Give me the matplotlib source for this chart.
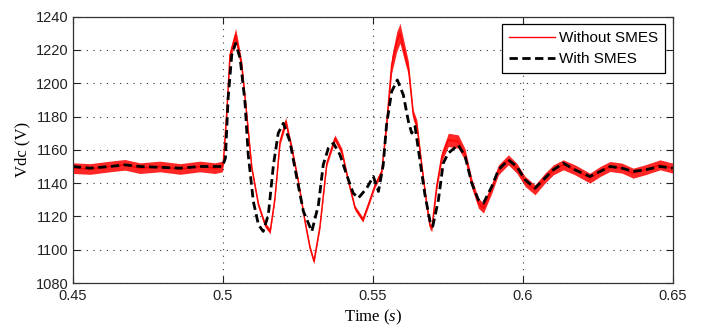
import numpy as np
import matplotlib
matplotlib.use("Agg")
import matplotlib.pyplot as plt

# DC-link voltage response, without / with SMES
t_red = [0.4500, 0.4558, 0.4624, 0.4674, 0.4724, 0.4791, 0.4858, 0.4924, 0.4974, 0.4999,
         0.5002, 0.5013, 0.5024, 0.5043, 0.5063, 0.5080, 0.5097, 0.5119, 0.5141, 0.5158,
         0.5174, 0.5191, 0.5210, 0.5230, 0.5252, 0.5274, 0.5291, 0.5304, 0.5324, 0.5347,
         0.5374, 0.5397, 0.5419, 0.5441, 0.5467, 0.5485, 0.5508, 0.5530, 0.5546, 0.5563,
         0.5580, 0.5591, 0.5608, 0.5619, 0.5635, 0.5647, 0.5663, 0.5680, 0.5691, 0.5697,
         0.5713, 0.5730, 0.5752, 0.5785, 0.5808, 0.5830, 0.5852, 0.5869, 0.5897, 0.5919,
         0.5952, 0.5980, 0.6008, 0.6041, 0.6074, 0.6102, 0.6135, 0.6174, 0.6224, 0.6258,
         0.6291, 0.6331, 0.6368, 0.6408, 0.6458, 0.6500]
v_red = [1149, 1148.5, 1150, 1151, 1149, 1150, 1148.5, 1150, 1149, 1150,
         1153, 1181, 1217, 1229, 1211, 1181, 1149, 1127, 1115, 1111,
         1131, 1165, 1177, 1161, 1141, 1117, 1101, 1093, 1114, 1152,
         1167, 1159, 1141, 1125, 1118, 1127, 1139, 1147, 1175, 1211,
         1225, 1230, 1217, 1209, 1181, 1175, 1151, 1127, 1114, 1113,
         1138, 1156, 1166, 1165, 1157, 1140, 1128, 1125, 1137, 1148,
         1154, 1149, 1141, 1136, 1143, 1148, 1151, 1148, 1143, 1147,
         1150, 1149, 1146, 1148, 1151, 1149]
# half-width of the measurement ripple on the red trace
ripple_red = [3.2, 3.2, 3.2, 3.2, 3.2, 3.2, 3.2, 3.2, 3.2, 3.2,
              2, 2, 3, 4, 3, 2, 1.5, 1.5, 1.5, 1.5,
              1.5, 2, 2.5, 2, 1.5, 1.5, 1.5, 1.5, 1.5, 1.5,
              2, 2, 1.5, 1.5, 1.5, 1.5, 1.5, 2, 3, 5,
              6, 6, 5, 4, 3, 3, 2, 2, 2, 2,
              2.5, 3, 4, 4, 3.5, 3, 3, 3, 3, 3,
              3, 3, 3, 3, 3, 3, 3, 3, 3, 3,
              3, 3, 3, 3, 3, 3]

t_blk = [0.4500, 0.4558, 0.4624, 0.4674, 0.4724, 0.4791, 0.4858, 0.4924, 0.4974, 0.4999,
         0.5009, 0.5018, 0.5030, 0.5043, 0.5058, 0.5074, 0.5085, 0.5102, 0.5119, 0.5135,
         0.5152, 0.5169, 0.5185, 0.5202, 0.5224, 0.5247, 0.5269, 0.5297, 0.5319, 0.5335,
         0.5352, 0.5369, 0.5391, 0.5413, 0.5435, 0.5452, 0.5480, 0.5502, 0.5519, 0.5535,
         0.5546, 0.5563, 0.5582, 0.5602, 0.5619, 0.5630, 0.5641, 0.5658, 0.5674, 0.5691,
         0.5700, 0.5719, 0.5735, 0.5752, 0.5785, 0.5808, 0.5830, 0.5852, 0.5869, 0.5897,
         0.5919, 0.5952, 0.5980, 0.6008, 0.6041, 0.6074, 0.6102, 0.6135, 0.6174, 0.6224,
         0.6258, 0.6291, 0.6331, 0.6368, 0.6408, 0.6458, 0.6500]
v_blk = [1150, 1149, 1150, 1151, 1150, 1149.5, 1149, 1150, 1150, 1150,
         1155, 1191, 1217, 1224, 1215, 1189, 1157, 1129, 1115, 1111,
         1121, 1151, 1170, 1176, 1165, 1143, 1123, 1111, 1127, 1151,
         1161, 1164, 1157, 1145, 1134, 1131, 1137, 1144, 1135, 1151,
         1175, 1195, 1202, 1193, 1177, 1170, 1174, 1153, 1133, 1117,
         1114, 1130, 1152, 1158, 1163, 1156, 1140, 1130, 1128, 1138,
         1148, 1154, 1150, 1142, 1137, 1143, 1148, 1152, 1148, 1144,
         1147, 1150, 1149, 1147, 1148, 1150, 1149]

x_ticks = [0.45, 0.5, 0.55, 0.6, 0.65]
x_ticklabels = ["0.45", "0.5", "0.55", "0.6", "0.65"]
y_ticks = [1080, 1100, 1120, 1140, 1160, 1180, 1200, 1220, 1240]

plt.rcParams["font.family"] = ["Liberation Sans", "DejaVu Sans"]
plt.rcParams["mathtext.fontset"] = "custom"
plt.rcParams["mathtext.it"] = "Liberation Serif:italic"
plt.rcParams["mathtext.rm"] = "Liberation Serif"

fig = plt.figure(figsize=(7.04, 3.35), dpi=100)
ax = fig.add_axes([0.1033, 0.1552, 0.8523, 0.795])

tr = np.array(t_red)
vr = np.array(v_red)
rr = np.array(ripple_red)
ax.fill_between(tr, vr - rr, vr + rr, color="#ff0000", lw=0, alpha=0.85)
ax.plot(tr, vr, color="#ff0000", lw=1.0, label="Without SMES")
ax.plot(t_blk, v_blk, color="black", lw=2.0, dashes=(3, 1.6), label="With SMES")

ax.set_xlim(0.45, 0.65)
ax.set_ylim(1080, 1240)
ax.set_xticks(x_ticks)
ax.set_xticklabels(x_ticklabels)
ax.set_yticks(y_ticks)
ax.tick_params(direction="in", length=5, width=0.8, top=True, right=True,
               labelsize=10.5, colors="#222222")
ax.tick_params(axis="x", pad=4)
ax.tick_params(axis="y", pad=3)
ax.grid(True, color="#333333", linestyle=(0, (1, 5)), lw=0.8)
for s in ax.spines.values():
    s.set_color("#333333")
    s.set_linewidth(0.9)

ax.set_xlabel("Time ($s$)", family="Liberation Serif", fontsize=12, labelpad=4)
ax.set_ylabel("Vdc (V)", family="Liberation Serif", fontsize=12, labelpad=4)

leg = ax.legend(loc="upper right", fontsize=11, fancybox=False, framealpha=1,
                edgecolor="black", borderaxespad=0.5, handlelength=3.0,
                handletextpad=0.3, borderpad=0.45, labelspacing=0.45)
leg.get_frame().set_linewidth(0.9)

fig.savefig("out.png", dpi=100)
